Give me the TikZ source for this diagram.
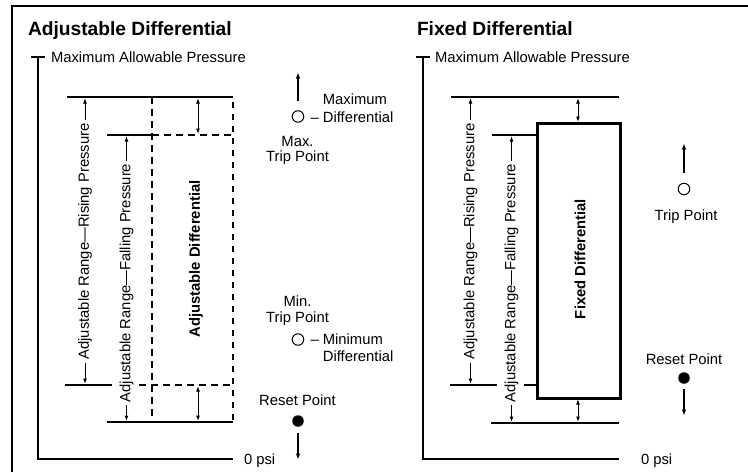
\documentclass[tikz,border=0pt]{standalone}
\usepackage{fontspec}
\setmainfont{Liberation Sans}
\usetikzlibrary{arrows.meta}

\begin{document}
\begin{tikzpicture}[x=1pt,y=-1pt,
  every node/.style={font=\fontsize{14.8}{17.5}\selectfont, inner sep=0pt, outer sep=0pt},
  heading/.style={font=\fontsize{19.2}{23}\selectfont\bfseries, anchor=base west},
  boldlabel/.style={font=\fontsize{14.8}{17.5}\selectfont\bfseries, rotate=90},
  rangelabel/.style={rotate=90},
  caption/.style={anchor=base},
  twoline/.style={anchor=base west, align=left},
  frameline/.style={line width=1.5pt},
  rule/.style={line width=2pt},
  dashrule/.style={line width=2pt, dash pattern=on 6.5pt off 5.5pt},
  heavyrule/.style={line width=3pt},
  tip/.style={-{Latex[length=5.5pt,width=4pt]}, line width=1pt},
  twotip/.style={{Latex[length=5.5pt,width=4pt]}-{Latex[length=5.5pt,width=4pt]}, line width=1pt, shorten <=1pt, shorten >=1pt},
  movetip/.style={-{Latex[length=6.5pt,width=4.5pt]}, line width=1.3pt},
  opendot/.style={circle, draw, line width=1pt, minimum size=11.5pt},
  fulldot/.style={circle, fill, minimum size=11.5pt},
]
\useasboundingbox (0,0) rectangle (748,472);

% outer frame
\draw[frameline] (12,472) -- (12,6) -- (748,6);

% ================= adjustable differential =================
\node[heading] (titleA) at (28,35) {Adjustable Differential};

% pressure axis
\draw[rule] (31,57) -- (45,57);
\draw[rule] (38,57) -- (38,459) -- (233,459);
\node[anchor=west] (maxA) at (51,57) {Maximum Allowable Pressure};
\node[anchor=base west] (zeroA) at (244,464) {0 psi};

% set-point lines
\draw[rule] (67,97) -- (233,97);
\draw[rule] (107,135) -- (152,135);
\draw[dashrule] (152,135) -- (233,135);
\draw[rule] (65,385) -- (112,385);
\draw[dashrule] (139,385) -- (233,385);
\draw[rule] (107,422) -- (233,422);
\draw[dashrule] (152,97) rectangle (233,422);

% differential arrows
\coordinate (dA1) at (198,97);  \coordinate (dA2) at (198,135);
\coordinate (dA3) at (198,385); \coordinate (dA4) at (198,422);
\draw[twotip] (dA1) -- (dA2);
\draw[twotip] (dA3) -- (dA4);

% range labels
\node[rangelabel] (riseA) at (85,241.5) {Adjustable Range—Rising Pressure};
\coordinate (riseAtop) at (85,97);
\coordinate (riseAbot) at (85,385);
\draw[tip, shorten <=3pt, shorten >=1pt] (riseA.east) -- (riseAtop);
\draw[tip, shorten <=3pt, shorten >=1pt] (riseA.west) -- (riseAbot);

\node[rangelabel] (fallA) at (126.5,283) {Adjustable Range—Falling Pressure};
\coordinate (fallAtop) at (126.5,135);
\coordinate (fallAbot) at (126.5,422);
\draw[tip, shorten <=3pt, shorten >=1pt] (fallA.east) -- (fallAtop);
\draw[tip, shorten <=3pt, shorten >=1pt] (fallA.west) -- (fallAbot);

\node[boldlabel] (diffA) at (196,259) {Adjustable Differential};

% trip and reset points
\node[opendot] (maxDot) at (298,116.5) {};
\coordinate (maxUp) at (298,72);
\draw[movetip, shorten <=10pt] (maxDot.north) -- (maxUp);
\node[twoline] (maxDiff) at (310.5,122) {\phantom{– }Maximum\\[0.5pt]– Differential};
\node[caption] (maxTripA) at (297.5,146.5) {Max.};
\node[caption] (maxTripB) at (297.5,161.5) {Trip Point};

\node[caption] (minTripA) at (297.5,306.5) {Min.};
\node[caption] (minTripB) at (297.5,322.5) {Trip Point};
\node[opendot] (minDot) at (298,339.5) {};
\node[twoline] (minDiff) at (310.5,361.5) {– Minimum\\[-0.5pt]\phantom{– }Differential};

\node[caption] (resetA) at (297.5,405) {Reset Point};
\node[fulldot] (resetDotA) at (298,421) {};
\coordinate (resetDownA) at (298,460);
\draw[movetip, shorten <=6pt] (resetDotA.south) -- (resetDownA);

% ================= fixed differential =================
\node[heading] (titleB) at (417,35) {Fixed Differential};

% pressure axis
\draw[rule] (416,57) -- (430,57);
\draw[rule] (423,57) -- (423,459) -- (619,459);
\node[anchor=west] (maxB) at (435,57) {Maximum Allowable Pressure};
\node[anchor=base west] (zeroB) at (641,464) {0 psi};

% set-point lines
\draw[rule] (451,97) -- (619,97);
\draw[rule] (492,135) -- (537,135);
\draw[rule] (450,385) -- (497,385);
\draw[rule] (524,385) -- (537,385);
\draw[rule] (491,423) -- (619,423);
\draw[heavyrule] (537,123) rectangle (620,398);

% differential arrows
\coordinate (dB1) at (578,97);  \coordinate (dB2) at (578,123);
\coordinate (dB3) at (578,398); \coordinate (dB4) at (578,423);
\draw[twotip] (dB1) -- (dB2);
\draw[twotip] (dB3) -- (dB4);

% range labels
\node[rangelabel] (riseB) at (470.5,241.5) {Adjustable Range—Rising Pressure};
\coordinate (riseBtop) at (470.5,97);
\coordinate (riseBbot) at (470.5,385);
\draw[tip, shorten <=3pt, shorten >=1pt] (riseB.east) -- (riseBtop);
\draw[tip, shorten <=3pt, shorten >=1pt] (riseB.west) -- (riseBbot);

\node[rangelabel] (fallB) at (511.5,283) {Adjustable Range—Falling Pressure};
\coordinate (fallBtop) at (511.5,135);
\coordinate (fallBbot) at (511.5,423);
\draw[tip, shorten <=3pt, shorten >=1pt] (fallB.east) -- (fallBtop);
\draw[tip, shorten <=3pt, shorten >=1pt] (fallB.west) -- (fallBbot);

\node[boldlabel] (diffB) at (580,259) {Fixed Differential};

% trip and reset points
\node[opendot] (tripDot) at (684,189) {};
\coordinate (tripUp) at (684,143);
\draw[movetip, shorten <=10pt] (tripDot.north) -- (tripUp);
\node[caption] (tripB) at (686,220.5) {Trip Point};

\node[caption] (resetB) at (684,364) {Reset Point};
\node[fulldot] (resetDotB) at (684,378) {};
\coordinate (resetDownB) at (684,416);
\draw[movetip, shorten <=5pt] (resetDotB.south) -- (resetDownB);
\end{tikzpicture}
\end{document}
